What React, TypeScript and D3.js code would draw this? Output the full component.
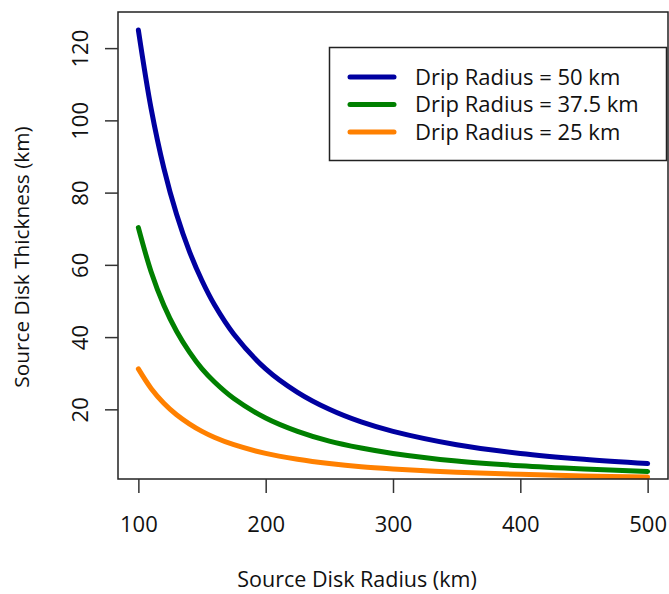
import React, { useEffect, useRef } from 'react';
import * as d3 from 'd3';

// source disk radius (km) sampled along the curves
const radius = [100, 110, 120, 130, 140, 150, 160, 175, 200, 225, 250, 275, 300, 350, 400, 450, 500];
// thickness (km)
const drip50 = [125, 103.3, 86.8, 74, 63.8, 55.6, 48.8, 40.8, 31.2, 24.7, 20, 16.5, 13.9, 10.2, 7.8, 6.2, 5];
const drip375 = [70.3, 58.1, 48.8, 41.6, 35.9, 31.2, 27.5, 23, 17.6, 13.9, 11.2, 9.3, 7.8, 5.7, 4.4, 3.5, 2.8];
const drip25 = [31.2, 25.8, 21.7, 18.5, 16, 13.9, 12.2, 10.2, 7.8, 6.2, 5, 4.1, 3.5, 2.6, 2, 1.55, 1.25];

const seriesNames = ['Drip Radius = 50 km', 'Drip Radius = 37.5 km', 'Drip Radius = 25 km'];
const seriesColors = ['#0000a0', '#008000', '#ff8000'];
const xTicks = [100, 200, 300, 400, 500];
const yTicks = [20, 40, 60, 80, 100, 120];

const W = 669;
const H = 594;
const FONT = '"Open Sans", "DejaVu Sans", sans-serif';

export default function App() {
  const ref = useRef<SVGSVGElement>(null);

  useEffect(() => {
    const svg = d3.select(ref.current);
    svg.selectAll('*').remove();

    const plot = { left: 118, top: 12, right: 668, bottom: 479 };
    const x = d3.scaleLinear().domain([84, 516]).range([plot.left, plot.right]);
    const y = d3.scaleLinear().domain([0.3, 130]).range([480.5, 12]);

    svg.append('rect').attr('width', W).attr('height', H).attr('fill', '#fff');

    // curves
    const all = [drip50, drip375, drip25];
    const line = d3
      .line<number>()
      .x((d, i) => x(radius[i]))
      .y((d) => y(d))
      .curve(d3.curveCatmullRom.alpha(0.5));
    all.forEach((vals, k) => {
      svg.append('path')
        .datum(vals)
        .attr('d', line)
        .attr('fill', 'none')
        .attr('stroke', seriesColors[k])
        .attr('stroke-width', 5)
        .attr('stroke-linecap', 'round');
    });

    // box
    svg.append('rect')
      .attr('x', plot.left)
      .attr('y', plot.top)
      .attr('width', plot.right - plot.left)
      .attr('height', plot.bottom - plot.top)
      .attr('fill', 'none')
      .attr('stroke', '#222')
      .attr('stroke-width', 1.5);

    // axes
    const xAxis = svg.append('g').attr('transform', 'translate(0,' + plot.bottom + ')');
    xAxis.call(d3.axisBottom(x).tickValues(xTicks).tickSize(14).tickPadding(23).tickFormat(d3.format('d')));
    xAxis.select('.domain').remove();
    xAxis.selectAll('line').attr('stroke', '#333').attr('stroke-width', 1.5);
    xAxis.selectAll('text').attr('font-size', 22).attr('font-family', FONT).attr('fill', '#111');

    const yAxis = svg.append('g').attr('transform', 'translate(' + plot.left + ',0)');
    yAxis.call(d3.axisLeft(y).tickValues(yTicks).tickSize(13).tickFormat(d3.format('d')));
    yAxis.select('.domain').remove();
    yAxis.selectAll('line').attr('stroke', '#333').attr('stroke-width', 1.5);
    yAxis.selectAll('text')
      .attr('font-size', 22)
      .attr('font-family', FONT)
      .attr('fill', '#111')
      .attr('x', null)
      .attr('text-anchor', 'middle')
      .attr('transform', 'translate(-38,0) rotate(-90)')
      .attr('dy', '0.35em');

    // axis titles
    svg.append('text')
      .attr('x', 357)
      .attr('y', 587)
      .attr('text-anchor', 'middle')
      .attr('font-size', 21.5)
      .attr('font-family', FONT)
      .attr('fill', '#111')
      .text('Source Disk Radius (km)');
    svg.append('text')
      .attr('transform', 'translate(29,257) rotate(-90)')
      .attr('text-anchor', 'middle')
      .attr('font-size', 20.8)
      .attr('font-family', FONT)
      .attr('fill', '#111')
      .text('Source Disk Thickness (km)');

    // legend
    const lg = svg.append('g');
    lg.append('rect')
      .attr('x', 329.5)
      .attr('y', 47.5)
      .attr('width', 337)
      .attr('height', 113)
      .attr('fill', '#fff')
      .attr('stroke', '#222')
      .attr('stroke-width', 1.5);
    const rowY = d3.scalePoint<string>().domain(seriesNames).range([77, 132]);
    seriesNames.forEach((name, k) => {
      const yy = rowY(name) as number;
      lg.append('line')
        .attr('x1', 350).attr('x2', 394)
        .attr('y1', yy).attr('y2', yy)
        .attr('stroke', seriesColors[k])
        .attr('stroke-width', 5)
        .attr('stroke-linecap', 'round');
      lg.append('text')
        .attr('x', 415)
        .attr('y', yy)
        .attr('dy', '0.35em')
        .attr('font-size', 22)
        .attr('font-family', FONT)
        .attr('fill', '#111')
        .text(name);
    });
  }, []);

  return (
    <svg
      ref={ref}
      width={W}
      height={H}
      style={{ display: 'block', position: 'fixed', left: 0, top: 0 }}
    />
  );
}
